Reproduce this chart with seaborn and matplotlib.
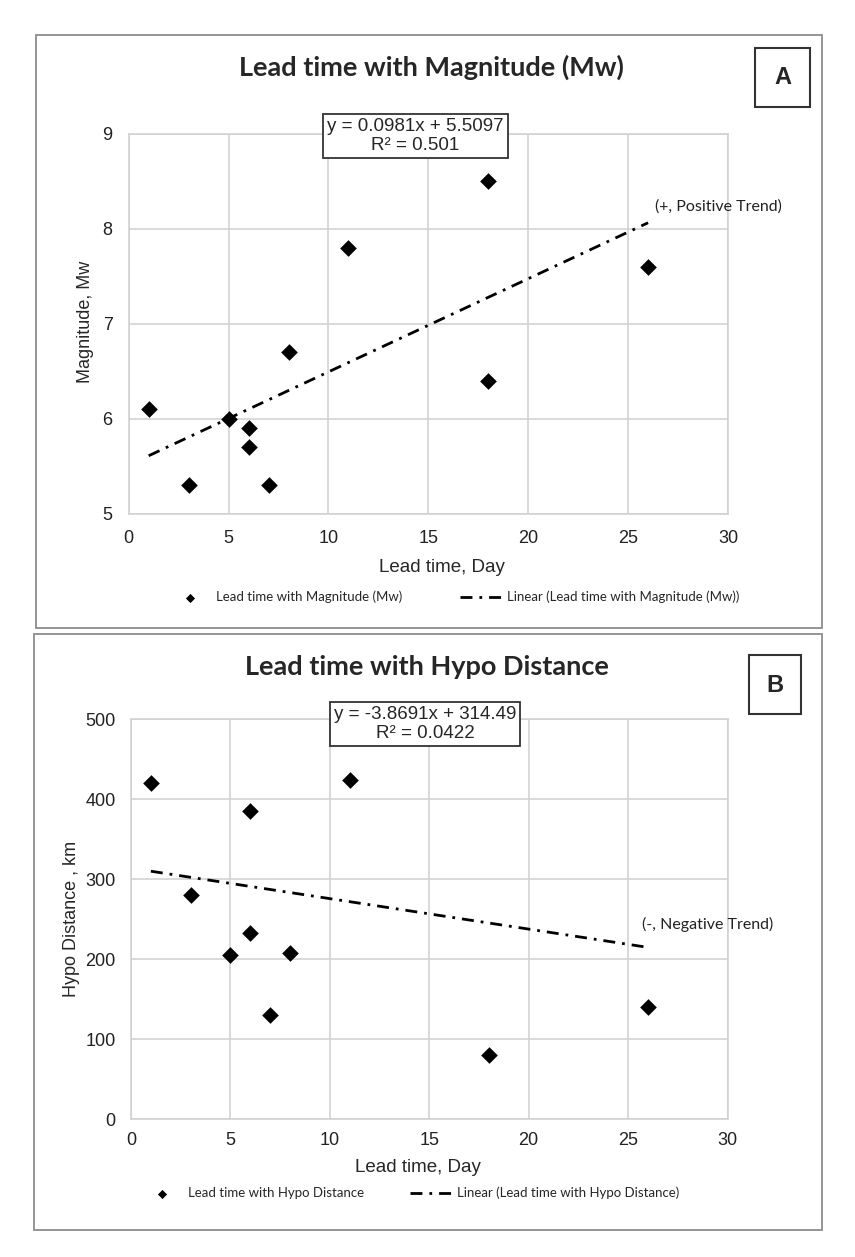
import numpy as np
import pandas as pd
import matplotlib
matplotlib.use('Agg')
import matplotlib.pyplot as plt
from matplotlib.patches import Rectangle
import seaborn as sns

# Дані
lead_days_a = [1, 3, 5, 6, 6, 7, 8, 11, 18, 18, 26]
magnitude_mw = [6.1, 5.3, 6.0, 5.9, 5.7, 5.3, 6.7, 7.8, 8.5, 6.4, 7.6]

# точка (18, ~530 км) виходить за межу осі 500, але входить у тренд
lead_days_b = [1, 3, 5, 6, 6, 7, 8, 11, 18, 18, 26]
hypo_km = [421, 280, 205, 386, 233, 130, 208, 424, 81, 530, 140]

x_ticks = [0, 5, 10, 15, 20, 25, 30]
mw_ticks = [5, 6, 7, 8, 9]
km_ticks = [0, 100, 200, 300, 400, 500]

eq_a = "y = 0.0981x + 5.5097\nR² = 0.501"
eq_b = "y = -3.8691x + 314.49\nR² = 0.0422"

W, H = 855, 1257
GRID = '#d0d0d0'
FRAME = '#8c8c8c'
ARIAL = ['Liberation Sans', 'DejaVu Sans']
CALIBRI = ['Lato', 'DejaVu Sans']


def fx(px):
    return px / W


def fy(py):
    return 1 - py / H


def style_axes(ax, xlim, ylim, yticks, ypad, xpad):
    """Оформлення осей у стилі Excel"""
    ax.set_xlim(*xlim)
    ax.set_ylim(*ylim)
    ax.set_xticks(x_ticks)
    ax.set_yticks(yticks)
    ax.grid(True, color=GRID, lw=1.1)
    ax.set_axisbelow(True)
    for sp in ax.spines.values():
        sp.set_color(GRID)
        sp.set_linewidth(1.1)
    ax.tick_params(axis='x', length=0, pad=xpad, labelsize=13)
    ax.tick_params(axis='y', length=0, pad=ypad, labelsize=13)
    for lab in ax.get_xticklabels() + ax.get_yticklabels():
        lab.set_family(ARIAL)
        lab.set_color('#222222')


def draw_panel(ax, x, y, label_pts, label_line, col_spacing, legend_xy):
    """Точки та лінійний тренд"""
    sns.scatterplot(x=x, y=y, marker='D', s=72, color='black',
                    edgecolor='black', linewidth=0, ax=ax,
                    label=label_pts, legend=False, zorder=3)
    sns.regplot(x=x, y=y, scatter=False, ci=None, truncate=True,
                color='black', ax=ax, label=label_line,
                line_kws=dict(lw=2, dashes=(4.3, 2.5, 1, 2.5)))
    handles, labels = ax.get_legend_handles_labels()
    ax.legend(handles, labels, loc='center',
              bbox_to_anchor=(fx(legend_xy[0]), fy(legend_xy[1])),
              bbox_transform=fig.transFigure, ncol=2, frameon=False,
              prop={'family': CALIBRI, 'size': 9.5},
              handlelength=3.2, handletextpad=0.4,
              columnspacing=col_spacing, markerscale=0.55)


sns.set_style('white')
plt.rcParams['font.family'] = ARIAL

fig = plt.figure(figsize=(W / 100, H / 100), dpi=100)

# Рамки панелей
for (x0, y0, x1, y1) in [(36, 35, 822, 628), (34, 634, 822, 1230)]:
    fig.add_artist(Rectangle((fx(x0), fy(y1)), (x1 - x0) / W, (y1 - y0) / H,
                             transform=fig.transFigure, fill=False,
                             ec=FRAME, lw=1.3))

# ---------- Панель A ----------
ax_a = fig.add_axes([fx(128.7), fy(513.5), (728 - 128.7) / W, 380 / H])
draw_panel(ax_a, lead_days_a, magnitude_mw,
           'Lead time with Magnitude (Mw)',
           'Linear (Lead time with Magnitude (Mw))', 4.35, (454, 597))
style_axes(ax_a, (0, 30), (5, 9), mw_ticks, ypad=11.5, xpad=12)

ax_a.set_xlabel('Lead time, Day', fontsize=13.5, va='center', family=ARIAL)
ax_a.xaxis.set_label_coords((442 - 128.7) / 599.3, (513.5 - 568) / 380)
ax_a.set_ylabel('Magnitude, Mw', fontsize=13, va='center', family=ARIAL)
ax_a.yaxis.set_label_coords((85 - 128.7) / 599.3, (513.5 - 322) / 380)

fig.text(fx(431), fy(67), 'Lead time with Magnitude (Mw)', ha='center',
         va='center', fontsize=19.5, fontweight='bold', family=CALIBRI)
fig.text(fx(415.6), fy(136), eq_a, ha='center', va='center',
         fontsize=13.5, linespacing=1.15, family=ARIAL,
         bbox=dict(boxstyle='square,pad=0.22', fc='white', ec='#333333',
                   lw=1.3))
fig.text(fx(655), fy(207), '(+, Positive Trend)', ha='left', va='center',
         fontsize=11.5, family=CALIBRI, color='#222222')
fig.add_artist(Rectangle((fx(755), fy(107)), 55 / W, 59 / H,
                         transform=fig.transFigure, fill=False,
                         ec='#333333', lw=1.5))
fig.text(fx(782.5), fy(78), 'A', ha='center', va='center', fontsize=17,
         fontweight='bold', family=ARIAL)

# ---------- Панель B ----------
ax_b = fig.add_axes([fx(131), fy(1119.3), (727.5 - 131) / W, 400 / H])
draw_panel(ax_b, lead_days_b, hypo_km,
           'Lead time with Hypo Distance',
           'Linear (Lead time with Hypo Distance)', 3.45, (410, 1193))
style_axes(ax_b, (0, 30), (0, 500), km_ticks, ypad=11, xpad=9.5)

ax_b.set_xlabel('Lead time, Day', fontsize=13.5, va='center', family=ARIAL)
ax_b.xaxis.set_label_coords((418 - 131) / 596.5, (1119.3 - 1168) / 400)
ax_b.set_ylabel('Hypo Distance , km', fontsize=13, va='center', family=ARIAL)
ax_b.yaxis.set_label_coords((71 - 131) / 596.5, 0.5)

fig.text(fx(426.5), fy(667), 'Lead time with Hypo Distance', ha='center',
         va='center', fontsize=19.5, fontweight='bold', family=CALIBRI)
fig.text(fx(425), fy(724), eq_b, ha='center', va='center',
         fontsize=13.5, linespacing=1.15, family=ARIAL,
         bbox=dict(boxstyle='square,pad=0.22', fc='white', ec='#333333',
                   lw=1.3))
fig.text(fx(642), fy(924), '(-, Negative Trend)', ha='left', va='center',
         fontsize=11.5, family=CALIBRI, color='#222222')
fig.add_artist(Rectangle((fx(749), fy(714)), 52 / W, 59 / H,
                         transform=fig.transFigure, fill=False,
                         ec='#333333', lw=1.5))
fig.text(fx(775), fy(685), 'B', ha='center', va='center', fontsize=17,
         fontweight='bold', family=ARIAL)

fig.savefig('out.png', dpi=100)
